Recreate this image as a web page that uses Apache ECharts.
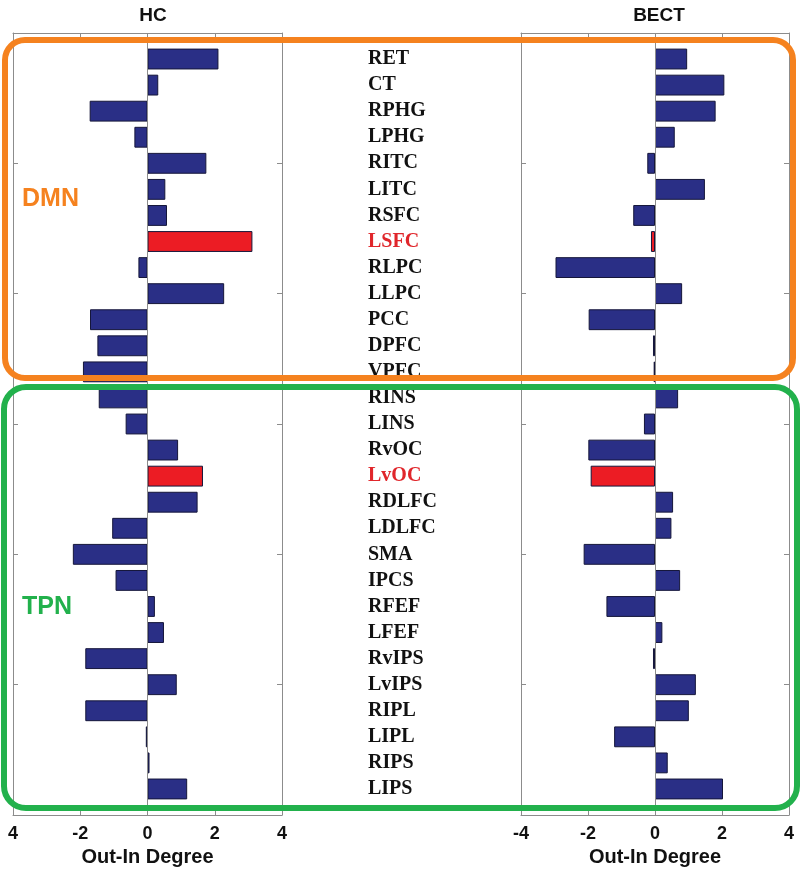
<!DOCTYPE html>
<html>
<head>
<meta charset="utf-8">
<script src="https://cdn.jsdelivr.net/npm/echarts@6/dist/echarts.min.js"></script>
<style>
  html, body { margin: 0; padding: 0; background: #fff; }
  #main { width: 800px; height: 870px; }
</style>
</head>
<body>
<div id="main"></div>
<script>
// regions, top to bottom
var regions = ['RET', 'CT', 'RPHG', 'LPHG', 'RITC', 'LITC', 'RSFC', 'LSFC', 'RLPC', 'LLPC',
	'PCC', 'DPFC', 'VPFC', 'RINS', 'LINS', 'RvOC', 'LvOC', 'RDLFC', 'LDLFC', 'SMA',
	'IPCS', 'RFEF', 'LFEF', 'RvIPS', 'LvIPS', 'RIPL', 'LIPL', 'RIPS', 'LIPS'];
var redRegions = ['LSFC', 'LvOC'];

// out-in degree, healthy controls
var hcValues = [2.11, 0.32, -1.72, -0.39, 1.75, 0.53, 0.58, 3.12, -0.27, 2.28,
	-1.71, -1.49, -1.92, -1.45, -0.65, 0.91, 1.65, 1.49, -1.05, -2.22,
	-0.95, 0.22, 0.49, -1.85, 0.87, -1.85, -0.05, 0.06, 1.18];
// out-in degree, BECT patients
var bectValues = [0.96, 2.07, 1.81, 0.59, -0.23, 1.49, -0.65, -0.12, -2.97, 0.81,
	-1.98, -0.06, -0.04, 0.69, -0.33, -1.99, -1.92, 0.54, 0.49, -2.13,
	0.75, -1.45, 0.22, -0.06, 1.22, 1.01, -1.22, 0.38, 2.03];

var hcTickLabels = ['4', '-2', '0', '2', '4'];
var bectTickLabels = ['-4', '-2', '0', '2', '4'];

var navy = '#2a2f86';
var red = '#ec1c24';
var gray = '#8c8c8c';
var sans = 'Liberation Sans';

var chart = echarts.init(document.getElementById('main'));

function frameX(gridIndex, pos, labels) {
	return {
		type: 'value', gridIndex: gridIndex, position: pos,
		min: -4, max: 4, interval: 2,
		axisLine: { show: true, onZero: false, lineStyle: { color: gray, width: 1 } },
		axisTick: { show: true, inside: true, length: 5, lineStyle: { color: gray } },
		axisLabel: labels ? {
			show: true, margin: 10, fontFamily: sans, fontSize: 18, fontWeight: 'bold', color: '#111',
			formatter: function(v) { return labels[Math.round((v + 4) / 2)]; }
		} : { show: false },
		splitLine: { show: false },
		name: labels ? 'Out-In Degree' : '',
		nameLocation: 'middle', nameGap: 31,
		nameTextStyle: { fontFamily: sans, fontSize: 20, fontWeight: 'bold', color: '#111' }
	};
}

function frameY(gridIndex, pos) {
	return {
		type: 'value', gridIndex: gridIndex, position: pos, inverse: true,
		min: 0, max: 30, interval: 5,
		axisLine: { show: true, onZero: false, lineStyle: { color: gray, width: 1 } },
		axisTick: { show: true, inside: true, length: 5, lineStyle: { color: gray } },
		axisLabel: { show: false },
		splitLine: { show: false }
	};
}

function barX(gridIndex) {
	return { type: 'value', gridIndex: gridIndex, min: -4, max: 4, show: false };
}

function barSeries(values, xi, yi) {
	return {
		type: 'bar', xAxisIndex: xi, yAxisIndex: yi, barWidth: '80%', z: 3,
		data: values,
		itemStyle: {
			borderColor: '#15163a', borderWidth: 1,
			color: function(p) { return redRegions.indexOf(regions[p.dataIndex]) >= 0 ? red : navy; }
		}
	};
}

function zeroLine(xi, yi) {
	return {
		type: 'line', xAxisIndex: xi, yAxisIndex: yi, data: [], z: 1,
		markLine: {
			silent: true, symbol: 'none', label: { show: false },
			lineStyle: { color: gray, width: 1, type: 'solid' },
			data: [{ xAxis: 0 }]
		}
	};
}

var option = {
	backgroundColor: '#fff',
	animation: false,
	title: [
		{ text: 'HC', left: 148, top: 1, textAlign: 'center',
			textStyle: { fontFamily: sans, fontSize: 19, fontWeight: 'bold', color: '#111' } },
		{ text: 'BECT', left: 654, top: 1, textAlign: 'center',
			textStyle: { fontFamily: sans, fontSize: 19, fontWeight: 'bold', color: '#111' } }
	],
	grid: [
		{ left: 13, right: 518, top: 33, bottom: 55, outerBoundsMode: 'none' },
		{ left: 13, right: 518, top: 46, bottom: 68, outerBoundsMode: 'none' },
		{ left: 521, right: 11, top: 33, bottom: 55, outerBoundsMode: 'none' },
		{ left: 521, right: 11, top: 46, bottom: 68, outerBoundsMode: 'none' }
	],
	xAxis: [
		frameX(0, 'bottom', hcTickLabels),
		frameX(0, 'top', null),
		barX(1),
		frameX(2, 'bottom', bectTickLabels),
		frameX(2, 'top', null),
		barX(3)
	],
	yAxis: [
		frameY(0, 'left'),
		frameY(0, 'right'),
		{
			type: 'category', gridIndex: 1, data: regions, inverse: true, position: 'right',
			axisLine: { show: false }, axisTick: { show: false }, splitLine: { show: false },
			axisLabel: {
				show: true, interval: 0, margin: 86, align: 'left',
				fontFamily: 'Liberation Serif', fontSize: 20, fontWeight: 'bold',
				color: function(v) { return redRegions.indexOf(v) >= 0 ? '#e0262b' : '#111'; }
			}
		},
		frameY(2, 'left'),
		frameY(2, 'right'),
		{ type: 'category', gridIndex: 3, data: regions, inverse: true, show: false }
	],
	series: [
		zeroLine(0, 0),
		barSeries(hcValues, 2, 2),
		zeroLine(3, 3),
		barSeries(bectValues, 5, 5)
	],
	graphic: [
		{ type: 'rect', z: 100, shape: { x: 5, y: 40, width: 788, height: 338, r: 20 },
			style: { fill: 'none', stroke: '#f5821f', lineWidth: 6 } },
		{ type: 'rect', z: 100, shape: { x: 4, y: 387, width: 793, height: 421, r: 22 },
			style: { fill: 'none', stroke: '#22b14c', lineWidth: 6 } },
		{ type: 'text', z: 100, left: 22, top: 187,
			style: { text: 'DMN', fill: '#f5821f', font: 'bold 25px "Liberation Sans"' } },
		{ type: 'text', z: 100, left: 22, top: 595,
			style: { text: 'TPN', fill: '#22b14c', font: 'bold 25px "Liberation Sans"' } }
	]
};

chart.setOption(option);
</script>
</body>
</html>
